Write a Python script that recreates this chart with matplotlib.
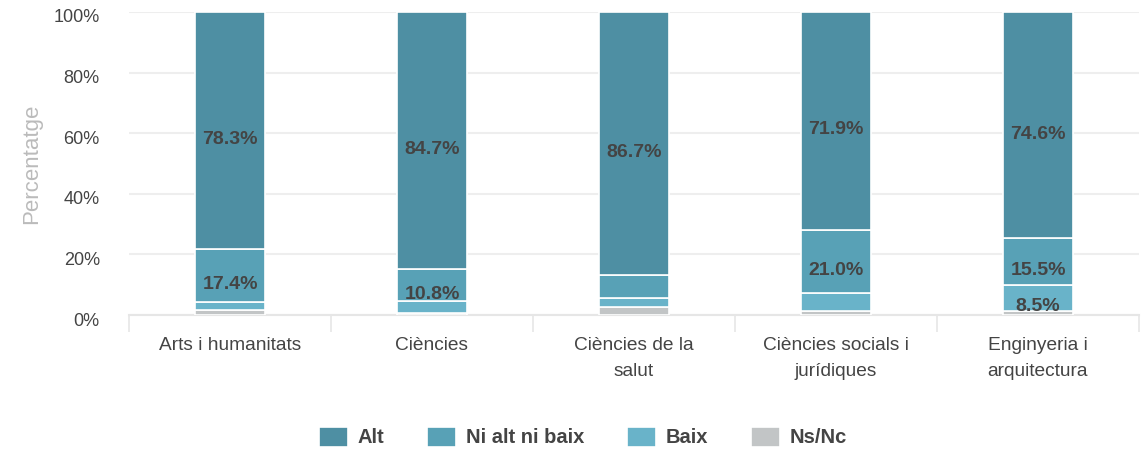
import matplotlib
matplotlib.use("Agg")
import matplotlib.pyplot as plt
import matplotlib.transforms as mtransforms
import numpy as np

plt.rcParams['font.family'] = ['Liberation Sans', 'DejaVu Sans']

categories = ["Arts i humanitats", "Ciències", "Ciències de la\nsalut",
              "Ciències socials i\njurídiques", "Enginyeria i\narquitectura"]
series_names = ["Alt", "Ni alt ni baix", "Baix", "Ns/Nc"]
alt = [78.3, 84.7, 86.7, 71.9, 74.6]
ni_alt_ni_baix = [17.4, 10.8, 7.6, 21.0, 15.5]
baix = [2.6, 4.0, 3.0, 5.9, 8.5]
ns_nc = [1.7, 0.5, 2.7, 1.2, 1.4]
colors = ["#4e8fa3", "#58a1b6", "#69b3c9", "#c2c5c6"]
yticks = [0, 20, 40, 60, 80, 100]
ylabel = "Percentatge"

fig = plt.figure(figsize=(11.45, 4.5), dpi=100)
ax = fig.add_axes([129/1145, 1-315/450, 1010/1145, 303/450])

x = np.arange(len(categories))
stack_order = [ns_nc, baix, ni_alt_ni_baix, alt]
stack_colors = [colors[3], colors[2], colors[1], colors[0]]
stack_names = [series_names[3], series_names[2], series_names[1], series_names[0]]
bottom = np.zeros(len(categories))
handles = {}
for vals, col, name in zip(stack_order, stack_colors, stack_names):
    v = np.array(vals)
    bars = ax.bar(x, v, width=0.35, bottom=bottom, color=col,
                  edgecolor="white", linewidth=1.2, zorder=3, label=name)
    handles[name] = bars
    for xi, b, vi in zip(x, bottom, v):
        if vi >= 8:
            ax.annotate(f"{vi:.1f}%", (xi, b + vi/2), xytext=(0, -6.5),
                        textcoords="offset points", ha="center", va="center",
                        fontsize=14, fontweight="bold", color="#444444", zorder=4)
    bottom = bottom + v

ax.set_xlim(-0.5, len(categories) - 0.5)
ax.set_ylim(0, 100)
ax.set_yticks(yticks)
ax.set_yticklabels([f"{t}%" for t in yticks], fontsize=13, color="#444444")
ax.tick_params(axis="y", length=0, pad=21)
offset = mtransforms.ScaledTranslation(0, -4/100, fig.dpi_scale_trans)
for lbl in ax.get_yticklabels():
    lbl.set_transform(lbl.get_transform() + offset)
ax.yaxis.grid(True, color="#eeeeee", linewidth=1.5, zorder=0)
ax.set_axisbelow(True)

ax.set_xticks(np.arange(len(categories) + 1) - 0.5)
ax.set_xticklabels([])
ax.tick_params(axis="x", which="major", length=12, width=1.2, color="#e6e6e6")
ax.set_xticks(x, minor=True)
ax.set_xticklabels(categories, minor=True, fontsize=13.8, color="#444444",
                   linespacing=1.7)
ax.tick_params(axis="x", which="minor", length=0, pad=16)

for s in ["top", "right", "left"]:
    ax.spines[s].set_visible(False)
ax.spines["bottom"].set_color("#e6e6e6")
ax.spines["bottom"].set_linewidth(1.5)

ax.set_ylabel(ylabel, fontsize=16, color="#bbbbbb", labelpad=8)

leg_handles = [handles[n] for n in series_names]
fig.legend(leg_handles, series_names, loc="center", bbox_to_anchor=(583/1145, 1-437/450),
           ncol=4, frameon=False, handlelength=1.45, handleheight=1.15,
           handletextpad=0.5, columnspacing=2.1,
           prop={"size": 14.5, "weight": "bold"}, labelcolor="#444444")

fig.savefig("out.png", dpi=100)
